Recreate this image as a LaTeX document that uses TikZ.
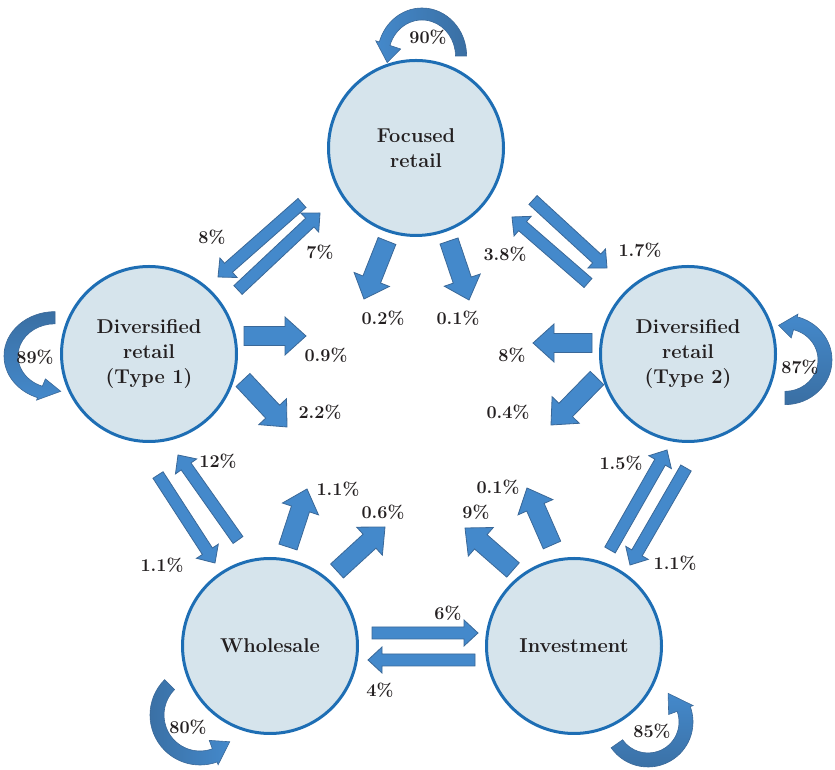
\documentclass[tikz,border=0pt]{standalone}
\usepackage{tikz}
\usetikzlibrary{calc}
\definecolor{stline}{HTML}{1E6EB4}
\definecolor{stfill}{HTML}{D6E4EC}
\definecolor{arfill}{HTML}{4489CB}
\definecolor{aredge}{HTML}{3A6898}
\definecolor{ardark}{HTML}{3A6FA3}
\definecolor{ink}{HTML}{231F20}
\tikzset{
  state/.style={circle, draw=stline, line width=3pt, fill=stfill, minimum size=175pt,
    inner sep=0pt, align=center, text=ink, font=\fontsize{20}{25}\selectfont\bfseries},
  pct/.style={text=ink, font=\fontsize{18}{20}\selectfont\bfseries, inner sep=1pt},
  flowar/.style={fill=arfill, draw=aredge, line width=0.8pt},
  loopar/.style={draw=aredge, line width=0.6pt}}
% straight block arrow: tail, tip, half shaft, half head, head length
\newcommand{\flow}[5]{%
  \coordinate (fa) at (#1); \coordinate (fb) at (#2);
  \coordinate (fh) at ($(fb)!#5!(fa)$);
  \filldraw[flowar] ($(fa)!#3!90:(fb)$) -- ($(fh)!#3!90:(fb)$) -- ($(fh)!#4!90:(fb)$)
    -- (fb) -- ($(fh)!#4!-90:(fb)$) -- ($(fh)!#3!-90:(fb)$) -- ($(fa)!#3!-90:(fb)$) -- cycle;}
\newcommand{\fthin}[2]{\flow{#1}{#2}{6pt}{13pt}{14pt}}
\newcommand{\ffat}[2]{\flow{#1}{#2}{9.5pt}{19pt}{21pt}}
% curved block arrow: centre, radius, half width, tail/head/tip angle, head out/in, options
\newcommand{\selfloop}[9]{%
  \pgfmathsetmacro\lro{#2+#3}\pgfmathsetmacro\lri{#2-#3}
  \pgfmathsetmacro\lho{#2+#7}\pgfmathsetmacro\lhi{#2-#8}
  \pgfmathsetmacro\lht{#2+(#7-#8)/2}
  \path[loopar, shift={(#1)}, #9] (#4:\lro) arc[start angle=#4, end angle=#5, radius=\lro]
    -- (#5:\lho) -- (#6:\lht) -- (#5:\lhi) -- (#5:\lri)
    arc[start angle=#5, end angle=#4, radius=\lri] -- cycle;}

\begin{document}
\begin{tikzpicture}[x=1pt, y=1pt]
  \useasboundingbox (0,0) rectangle (835,770);

  % staying in the same group
  \selfloop{422,714}{42}{6}{0}{163}{190}{10}{18}{xscale=0.93, left color=arfill, right color=ardark}
  \selfloop{55,414}{44}{7}{90}{250}{278}{10}{16}{yscale=0.87, top color=ardark, bottom color=arfill}
  \selfloop{785,410}{40}{7}{-90}{75}{100}{10}{16}{yscale=0.95, bottom color=ardark, top color=arfill}
  \selfloop{200,55}{43}{7}{135}{290}{318}{10}{16}{left color=ardark, right color=arfill}
  \selfloop{648,48}{38}{7}{215}{380}{415}{10}{16}{bottom color=ardark, top color=arfill}

  % moves between groups
  \fthin{302,567}{218,493}  \fthin{238,480}{320,557}
  \ffat{387,529}{364,471}   \ffat{449,529}{469,470}
  \fthin{588,487}{512,553}  \fthin{533,570}{607,502}
  \ffat{244,434}{306,434}   \ffat{243,390}{287,343}
  \ffat{592,427}{533,427}   \ffat{597,392}{551,345}
  \fthin{238,230}{178,315}  \fthin{158,295}{215,207}
  \ffat{288,223}{307,281}   \ffat{337,199}{385,243}
  \fthin{372,137}{478,137}  \fthin{475,110}{368,110}
  \ffat{513,200}{465,242}   \ffat{552,225}{527,282}
  \fthin{610,220}{667,320}  \fthin{686,302}{630,205}

  \node[state] (fr) at (416,622) {Focused\\retail};
  \node[state] (dr1) at (149,416) {Diversified\\retail\\(Type 1)};
  \node[state] (dr2) at (688,416) {Diversified\\retail\\(Type 2)};
  \node[state] (ws) at (270,124) {Wholesale};
  \node[state] (iv) at (574,124) {Investment};

  \node[pct] (fr-fr) at (428,733) {90\%};
  \node[pct] (dr1-dr1) at (35,413) {89\%};
  \node[pct] (dr2-dr2) at (800,403) {87\%};
  \node[pct] (ws-ws) at (188,43) {80\%};
  \node[pct] (iv-iv) at (652,39) {85\%};
  \node[pct] (fr-dr1) at (212,533) {8\%};
  \node[pct] (dr1-fr) at (320,518) {7\%};
  \node[pct] (fr-a) at (383,452) {0.2\%};
  \node[pct] (fr-b) at (458,452) {0.1\%};
  \node[pct] (dr2-fr) at (505,516) {3.8\%};
  \node[pct] (fr-dr2) at (640,520) {1.7\%};
  \node[pct] (dr1-a) at (326,415) {0.9\%};
  \node[pct] (dr1-b) at (320,358) {2.2\%};
  \node[pct] (dr2-a) at (512,415) {8\%};
  \node[pct] (dr2-b) at (508,358) {0.4\%};
  \node[pct] (ws-dr1) at (218,309) {12\%};
  \node[pct] (dr1-ws) at (162,205) {1.1\%};
  \node[pct] (ws-a) at (338,281) {1.1\%};
  \node[pct] (ws-b) at (383,258) {0.6\%};
  \node[pct] (ws-iv) at (448,157) {6\%};
  \node[pct] (iv-ws) at (380,80) {4\%};
  \node[pct] (iv-a) at (476,258) {9\%};
  \node[pct] (iv-b) at (498,283) {0.1\%};
  \node[pct] (iv-dr2) at (621,307) {1.5\%};
  \node[pct] (dr2-iv) at (675,207) {1.1\%};
\end{tikzpicture}
\end{document}
